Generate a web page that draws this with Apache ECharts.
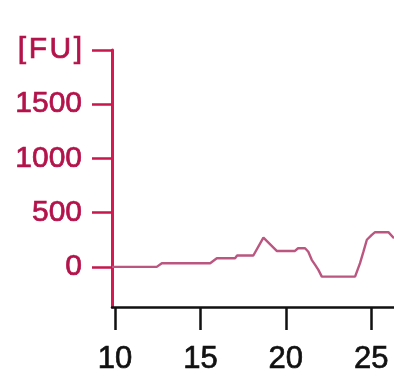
<!DOCTYPE html>
<html><head><meta charset="utf-8">
<script src="https://cdn.jsdelivr.net/npm/echarts@6/dist/echarts.min.js"></script>
<style>html,body{margin:0;padding:0;background:#fff}#c{width:394px;height:376px}</style>
</head><body><div id="c"></div>
<script>
const xTicks = [10, 15, 20, 25];
const yTicks = [0, 500, 1000, 1500, 2000];
const yUnitLabel = '[\u200aF\u200aU\u200a]';
const timeValues = [9.82, 12.44, 12.74, 15.57, 15.96, 17.03, 17.15, 18.10, 18.69, 19.47, 20.54, 20.72, 21.13, 21.32, 21.52, 21.72, 21.91, 22.11, 24.06, 24.35, 24.55, 24.75, 25.04, 25.23, 26.01, 26.34];
const signalValues = [0, 0, 34, 34, 80, 80, 105, 105, 270, 147, 147, 172, 172, 140, 65, 18, -28, -90, -90, 34, 140, 250, 295, 320, 320, 265];

const data = timeValues.map((t, i) => [t, signalValues[i]]);
const font = 'Liberation Sans';
const chart = echarts.init(document.getElementById('c'), null, {renderer: 'canvas'});
chart.setOption({
  animation: false,
  grid: {left: 112, right: 0, top: 50, bottom: 69, containLabel: false},
  xAxis: {
    type: 'value', min: 9.82, max: 26.34,
    axisLine: {show: true, onZero: false, lineStyle: {color: '#111', width: 2.5}},
    axisTick: {show: true, length: 23, lineStyle: {color: '#111', width: 2.5}, customValues: xTicks},
    axisLabel: {customValues: xTicks, color: '#111', fontSize: 31, fontFamily: font, margin: 37,
      textBorderColor: '#111', textBorderWidth: 0.7},
    splitLine: {show: false}
  },
  yAxis: {
    type: 'value', min: -370, max: 2000,
    axisLine: {show: true, onZero: false, lineStyle: {color: '#d41a50', width: 3}},
    axisTick: {show: true, length: 20, lineStyle: {color: '#c8174c', width: 2.5}, customValues: yTicks},
    axisLabel: {customValues: yTicks, color: '#b3124a', fontSize: 30, fontFamily: font, margin: 30,
      textBorderColor: '#b3124a', textBorderWidth: 0.7,
      formatter: v => v === 2000 ? yUnitLabel : String(v)},
    splitLine: {show: false}
  },
  series: [{
    type: 'line', data: data, showSymbol: false, symbol: 'none',
    lineStyle: {color: '#bb5680', width: 2.4}, z: 1
  }]
});
</script></body></html>
